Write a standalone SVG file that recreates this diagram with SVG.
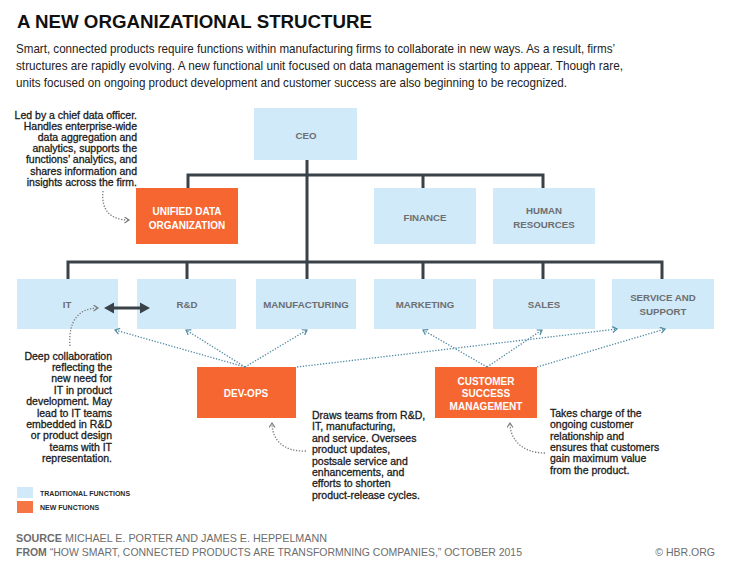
<svg xmlns="http://www.w3.org/2000/svg" width="739" height="574" viewBox="0 0 739 574">
<style>
.bg{fill:#ffffff}
.trad{fill:#d0eaf9}
.new{fill:#f56630}
.tl{font-family:"Liberation Sans",Arial,sans-serif;font-weight:bold;font-size:9.7px;fill:#6d6e71;text-anchor:middle}
.nl{font-family:"Liberation Sans",Arial,sans-serif;font-weight:bold;font-size:10px;fill:#ffffff;text-anchor:middle}
.tree{fill:none;stroke:#3a4249;stroke-width:3}
.blue{fill:none;stroke:#4f8aa3;stroke-width:1.3;stroke-dasharray:1.3 1.6}
.note{fill:none;stroke:#7a7a7a;stroke-width:1.3;stroke-dasharray:1.3 1.6}
.ann{font-family:"Liberation Sans",Arial,sans-serif;font-size:10.5px;fill:#1b1b1b;stroke:#1b1b1b;stroke-width:0.3}
.para{font-family:"Liberation Sans",Arial,sans-serif;font-size:13px;fill:#222222}
.foot{font-family:"Liberation Sans",Arial,sans-serif;font-size:10.5px;fill:#6d6d6d}
.leg{font-family:"Liberation Sans",Arial,sans-serif;font-size:7px;font-weight:bold;fill:#2a2a2a}
</style>
<defs>
<marker id="chevB" markerUnits="userSpaceOnUse" markerWidth="10" markerHeight="10" refX="5" refY="3.5" orient="auto">
<path d="M0.5,0.5 L5,3.5 L0.5,6.5" fill="none" stroke="#4f8aa3" stroke-width="1.2"/>
</marker>
<marker id="chevG" markerUnits="userSpaceOnUse" markerWidth="10" markerHeight="10" refX="5" refY="3.5" orient="auto">
<path d="M0.5,0.5 L5,3.5 L0.5,6.5" fill="none" stroke="#7a7a7a" stroke-width="1.2"/>
</marker>
</defs>
<rect class="bg" x="0" y="0" width="739" height="574"/>

<text x="17" y="28" font-family="'Liberation Sans',Arial,sans-serif" font-weight="bold" font-size="19" fill="#111" textLength="355" lengthAdjust="spacingAndGlyphs">A NEW ORGANIZATIONAL STRUCTURE</text>
<text class="para" x="16" y="53" textLength="599" lengthAdjust="spacingAndGlyphs">Smart, connected products require functions within manufacturing firms to collaborate in new ways. As a result, firms’</text>
<text class="para" x="16" y="70" textLength="607" lengthAdjust="spacingAndGlyphs">structures are rapidly evolving. A new functional unit focused on data management is starting to appear. Though rare,</text>
<text class="para" x="16" y="87" textLength="551" lengthAdjust="spacingAndGlyphs">units focused on ongoing product development and customer success are also beginning to be recognized.</text>

<g id="ceo"><rect class="trad" x="254" y="108" width="103" height="52"/><text class="tl" x="306" y="139">CEO</text></g>
<g id="udo"><rect class="new" x="136" y="188" width="102" height="56"/><text class="nl" x="187" y="215">UNIFIED DATA</text><text class="nl" x="187" y="229">ORGANIZATION</text></g>
<g id="finance"><rect class="trad" x="374" y="188" width="102" height="56"/><text class="tl" x="425" y="221">FINANCE</text></g>
<g id="hr"><rect class="trad" x="493" y="188" width="102" height="56"/><text class="tl" x="544" y="214">HUMAN</text><text class="tl" x="544" y="228">RESOURCES</text></g>

<g id="it"><rect class="trad" x="17" y="279" width="101" height="50"/><text class="tl" x="67" y="308">IT</text></g>
<g id="rd"><rect class="trad" x="137" y="279" width="99" height="50"/><text class="tl" x="187" y="308">R&amp;D</text></g>
<g id="mfg"><rect class="trad" x="256" y="279" width="100" height="50"/><text class="tl" x="306" y="308">MANUFACTURING</text></g>
<g id="marketing"><rect class="trad" x="374" y="279" width="102" height="50"/><text class="tl" x="425" y="308">MARKETING</text></g>
<g id="sales"><rect class="trad" x="493" y="279" width="102" height="50"/><text class="tl" x="544" y="308">SALES</text></g>
<g id="service"><rect class="trad" x="612" y="279" width="102" height="50"/><text class="tl" x="663" y="301">SERVICE AND</text><text class="tl" x="663" y="315">SUPPORT</text></g>

<g id="devops"><rect class="new" x="197" y="367" width="99" height="51"/><text class="nl" x="246" y="397">DEV-OPS</text></g>
<g id="csm"><rect class="new" x="435" y="367" width="102" height="51"/><text class="nl" x="486" y="385">CUSTOMER</text><text class="nl" x="486" y="397">SUCCESS</text><text class="nl" x="486" y="410">MANAGEMENT</text></g>

<g id="connectors">
<path class="tree" d="M307,160 V262 M188,188 V175 H543 V188 M423,175 V188 M68,279 V262 H662 V279 M187,262 V279 M307,262 V279 M423,262 V279 M543,262 V279"/>
<line x1="112" y1="308" x2="142" y2="308" stroke="#3a4249" stroke-width="3"/>
<path d="M104,308 L114,302.5 L114,313.5 Z M150,308 L140,302.5 L140,313.5 Z" fill="#3a4249"/>
<line class="blue" x1="245" y1="367" x2="115" y2="330" marker-end="url(#chevB)"/>
<line class="blue" x1="245" y1="367" x2="186" y2="330" marker-end="url(#chevB)"/>
<line class="blue" x1="245" y1="367" x2="307" y2="330" marker-end="url(#chevB)"/>
<line class="blue" x1="297" y1="367" x2="617" y2="329" marker-end="url(#chevB)"/>
<line class="blue" x1="487" y1="367" x2="423" y2="330" marker-end="url(#chevB)"/>
<line class="blue" x1="487" y1="367" x2="542" y2="330" marker-end="url(#chevB)"/>
<line class="blue" x1="537" y1="367" x2="665" y2="329" marker-end="url(#chevB)"/>
<path class="note" d="M103,191 C101,210 110,220 129,220" marker-end="url(#chevG)"/>
<path class="note" d="M70,346 C68,322 78,308 98,308" marker-end="url(#chevG)"/>
<path class="note" d="M306,451 C285,452 272,441 272,423" marker-end="url(#chevG)"/>
<path class="note" d="M545,453 C525,453 510,442 510,423" marker-end="url(#chevG)"/>
</g>

<g id="note-udo" class="ann" text-anchor="end">
<text x="137" y="119">Led by a chief data officer.</text>
<text x="137" y="130.1">Handles enterprise-wide</text>
<text x="137" y="141.2">data aggregation and</text>
<text x="137" y="152.3">analytics, supports the</text>
<text x="137" y="163.4">functions’ analytics, and</text>
<text x="137" y="174.5">shares information and</text>
<text x="137" y="185.6">insights across the firm.</text>
</g>
<g id="note-it" class="ann" text-anchor="end">
<text x="112" y="359.5">Deep collaboration</text>
<text x="112" y="370.9">reflecting the</text>
<text x="112" y="382.3">new need for</text>
<text x="112" y="393.7">IT in product</text>
<text x="112" y="405.1">development. May</text>
<text x="112" y="416.5">lead to IT teams</text>
<text x="112" y="427.9">embedded in R&amp;D</text>
<text x="112" y="439.3">or product design</text>
<text x="112" y="450.7">teams with IT</text>
<text x="112" y="462.1">representation.</text>
</g>
<g id="note-devops" class="ann">
<text x="312" y="419">Draws teams from R&amp;D,</text>
<text x="312" y="430.4">IT, manufacturing,</text>
<text x="312" y="441.8">and service. Oversees</text>
<text x="312" y="453.2">product updates,</text>
<text x="312" y="464.6">postsale service and</text>
<text x="312" y="476">enhancements, and</text>
<text x="312" y="487.4">efforts to shorten</text>
<text x="312" y="498.8">product-release cycles.</text>
</g>
<g id="note-csm" class="ann">
<text x="550" y="417">Takes charge of the</text>
<text x="550" y="428.3">ongoing customer</text>
<text x="550" y="439.6">relationship and</text>
<text x="550" y="450.9">ensures that customers</text>
<text x="550" y="462.2">gain maximum value</text>
<text x="550" y="473.5">from the product.</text>
</g>

<g id="legend">
<rect class="trad" x="17" y="487" width="16" height="11"/>
<text class="leg" x="40" y="495.5">TRADITIONAL FUNCTIONS</text>
<rect class="new" x="17" y="501" width="16" height="12" fill-opacity="0.9"/>
<text class="leg" x="40" y="509.5">NEW FUNCTIONS</text>
</g>

<g id="footer">
<text class="foot" x="16" y="542" textLength="311" lengthAdjust="spacingAndGlyphs"><tspan font-weight="bold">SOURCE</tspan>  MICHAEL E. PORTER AND JAMES E. HEPPELMANN</text>
<text class="foot" x="16" y="556" textLength="506" lengthAdjust="spacingAndGlyphs"><tspan font-weight="bold">FROM</tspan>  “HOW SMART, CONNECTED PRODUCTS ARE TRANSFORMNING COMPANIES,” OCTOBER 2015</text>
<text class="foot" x="715" y="556" text-anchor="end">© HBR.ORG</text>
</g>
</svg>
